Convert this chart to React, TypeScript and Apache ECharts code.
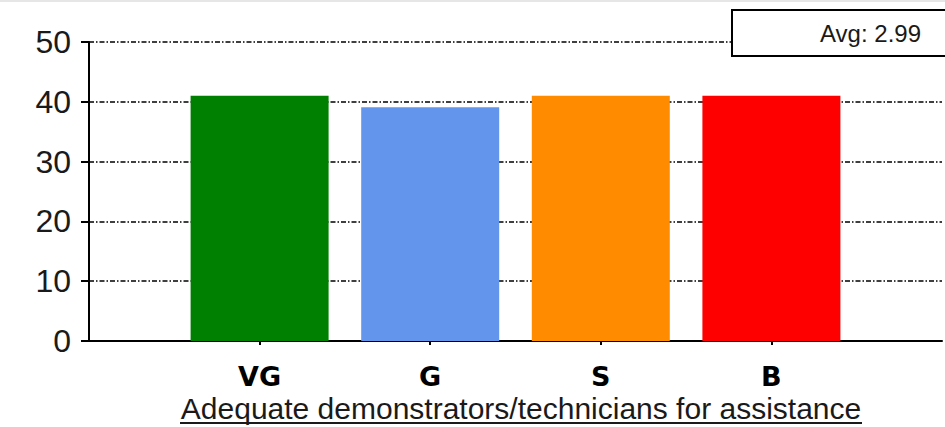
import React, { useEffect, useRef } from "react";
import * as echarts from "echarts";

const categories = ["VG", "G", "S", "B"];
const values = [41, 39.1, 41, 41];
const barColors = ["#008000", "#6495ED", "#FF8C00", "#FF0000"];
const yMin = 0;
const yMax = 50;
const yInterval = 10;
const axisTitle = "Adequate demonstrators/technicians for assistance";
const avgLabel = "Avg: 2.99";

export default function App() {
  const ref = useRef<HTMLDivElement>(null);

  useEffect(() => {
    if (!ref.current) return;
    const chart = echarts.init(ref.current, null, { renderer: "svg" });
    const xData = ["", ...categories, ""];
    const seriesData: any[] = [
      "-",
      ...values.map((v, i) => ({ value: v, itemStyle: { color: barColors[i] } })),
      "-",
    ];
    chart.setOption({
      animation: false,
      backgroundColor: "#ffffff",
      grid: { left: 89, width: 859, top: 42, bottom: 86, containLabel: false },
      xAxis: {
        type: "category",
        data: xData,
        boundaryGap: false,
        axisLine: { show: true, lineStyle: { color: "#000", width: 2 } },
        axisTick: {
          show: true,
          length: 4,
          interval: (_i: number, v: string) => v !== "",
          lineStyle: { color: "#000", width: 2 },
        },
        axisLabel: {
          show: true,
          interval: 0,
          margin: 22,
          fontFamily: "DejaVu Sans",
          fontWeight: "bold",
          fontSize: 27,
          color: "#000",
        },
        splitLine: { show: false },
      },
      yAxis: {
        type: "value",
        min: yMin,
        max: yMax,
        interval: yInterval,
        axisLine: { show: true, lineStyle: { color: "#000", width: 2 } },
        axisTick: { show: true, inside: false, length: 8, lineStyle: { color: "#000", width: 2 } },
        axisLabel: {
          margin: 18,
          fontFamily: "Liberation Sans",
          fontSize: 32,
          color: "#1a1a1a",
        },
        splitLine: {
          show: true,
          lineStyle: { color: "#000", width: 1.5, type: [5, 2, 1.5, 2] },
        },
      },
      series: [
        {
          type: "bar",
          data: seriesData,
          barWidth: 138,
          z: 3,
        },
      ],
      graphic: [
        {
          type: "line",
          shape: { x1: 0, y1: 1, x2: 945, y2: 1 },
          style: { stroke: "#e6e6e6", lineWidth: 2 },
        },
        {
          type: "rect",
          shape: { x: 732, y: 10, width: 240, height: 46 },
          style: { fill: "#fff", stroke: "#000", lineWidth: 2 },
          z: 10,
        },
        {
          type: "text",
          x: 921,
          y: 33,
          style: {
            text: avgLabel,
            fontFamily: "Liberation Sans",
            fontSize: 24,
            fill: "#1a1a1a",
            align: "right",
            verticalAlign: "middle",
          },
          z: 11,
        },
        {
          type: "text",
          x: 521,
          y: 408,
          style: {
            text: axisTitle,
            fontFamily: "Liberation Sans",
            fontSize: 30,
            fill: "#1a1a1a",
            align: "center",
            verticalAlign: "middle",
          },
        },
        {
          type: "line",
          shape: { x1: 180, y1: 423, x2: 862, y2: 423 },
          style: { stroke: "#1a1a1a", lineWidth: 2 },
        },
      ],
    });
    return () => chart.dispose();
  }, []);

  return (
    <div
      ref={ref}
      style={{ position: "fixed", left: 0, top: 0, width: 945, height: 427 }}
    />
  );
}
